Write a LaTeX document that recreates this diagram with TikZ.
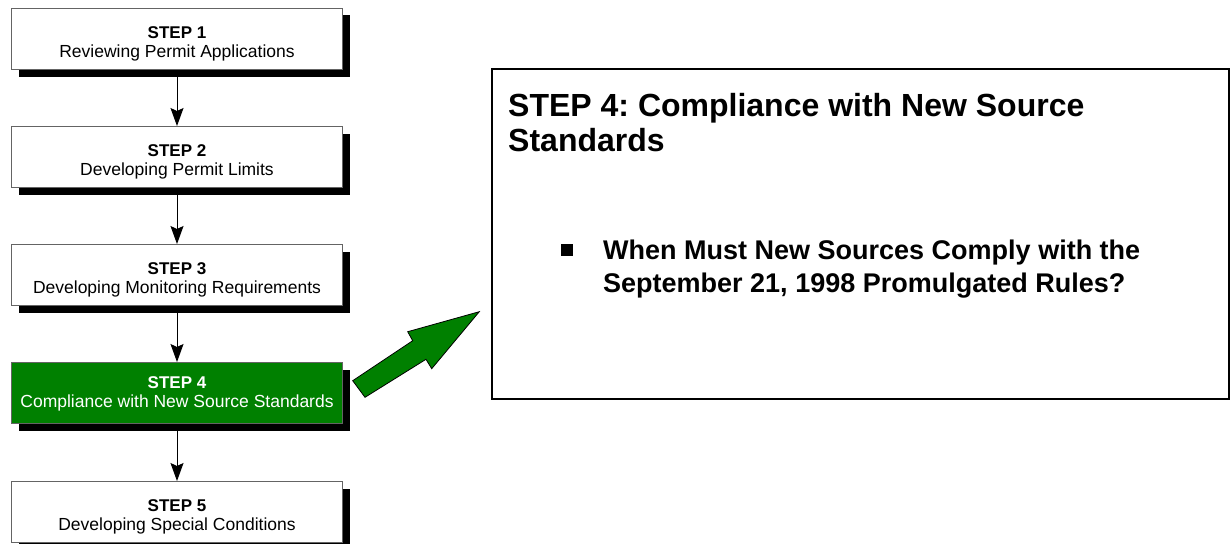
\documentclass[tikz,border=0pt]{standalone}
\usepackage{fontspec}
\setmainfont{Liberation Sans}
\frenchspacing
\usetikzlibrary{arrows.meta,shadows}
\definecolor{stepgreen}{RGB}{0,128,0}
\definecolor{boxline}{RGB}{100,100,100}
\begin{document}
\begin{tikzpicture}[x=1pt,y=-1pt,
  stepbox/.style={draw=boxline,line width=1pt,fill=white,minimum width=331pt,minimum height=61pt,
    anchor=north west,inner sep=0pt,
    drop shadow={shadow xshift=7pt,shadow yshift=-7pt,fill=black,opacity=1}},
  greenbox/.style={stepbox,fill=stepgreen},
  steptitle/.style={anchor=base,inner sep=0pt,font=\fontsize{17}{20}\selectfont\bfseries},
  stepdesc/.style={anchor=base,inner sep=0pt,font=\fontsize{17.5}{20}\selectfont},
  conn/.style={draw=black,line width=1pt,-{Stealth[length=18pt,width=13pt,inset=3pt]}},
  paneltitle/.style={anchor=base west,inner sep=0pt,font=\fontsize{32}{36}\selectfont\bfseries},
  bullettext/.style={anchor=base west,inner sep=0pt,font=\fontsize{27}{32}\selectfont\bfseries}
]
\useasboundingbox (0,0) rectangle (1230,543);
\fill[white] (0,0) rectangle (1230,543);

% step boxes
\node[stepbox] (b1) at (11,8) {};
\node[stepbox] (b2) at (11,126) {};
\node[stepbox] (b3) at (11,244) {};
\node[greenbox] (b4) at (11,362) {};
\node[stepbox] (b5) at (11,481) {};

% connectors
\draw[conn] (b1.south) -- (b2.north);
\draw[conn] (b2.south) -- (b3.north);
\draw[conn] (b3.south) -- (b4.north);
\draw[conn] (b4.south) -- (b5.north);

% texts
\node[steptitle] (t1) at ([yshift=-30pt]b1.north) {STEP 1};
\node[stepdesc] (d1) at ([yshift=-49pt]b1.north) {Reviewing Permit Applications};
\node[steptitle] (t2) at ([yshift=-30pt]b2.north) {STEP 2};
\node[stepdesc] (d2) at ([yshift=-49pt]b2.north) {Developing Permit Limits};
\node[steptitle] (t3) at ([yshift=-30pt]b3.north) {STEP 3};
\node[stepdesc] (d3) at ([yshift=-49pt]b3.north) {Developing Monitoring Requirements};
\node[steptitle,text=white] (t4) at ([yshift=-26pt]b4.north) {STEP 4};
\node[stepdesc,text=white] (d4) at ([yshift=-45.5pt]b4.north) {Compliance with New Source Standards};
\node[steptitle] (t5) at ([yshift=-30pt]b5.north) {STEP 5};
\node[stepdesc] (d5) at ([yshift=-49pt]b5.north) {Developing Special Conditions};

% panel
\node[draw=black,line width=2pt,fill=white,anchor=north west,minimum width=737.5pt,minimum height=330pt,inner sep=0pt] (panel) at (490.5,68) {};
\node[paneltitle] (pt1) at (508,116.7) {STEP 4: Compliance with New Source};
\node[paneltitle] (pt2) at (508,151.7) {Standards};
\node[fill=black,minimum size=12pt,inner sep=0pt] (bul) at (567,250) {};
\node[bullettext] (bt1) at (603,259) {When Must New Sources Comply with the};
\node[bullettext] (bt2) at (603,292) {September 21, 1998 Promulgated Rules?};

% green block arrow
\filldraw[fill=stepgreen,draw=black,line width=0.8pt,line join=miter]
  (352.7,380.7) -- (412.7,340.7) -- (407.7,331.7) -- (479.3,311.7)
  -- (431.7,368.7) -- (426,359.3) -- (365,397.3) -- cycle;
\end{tikzpicture}
\end{document}
